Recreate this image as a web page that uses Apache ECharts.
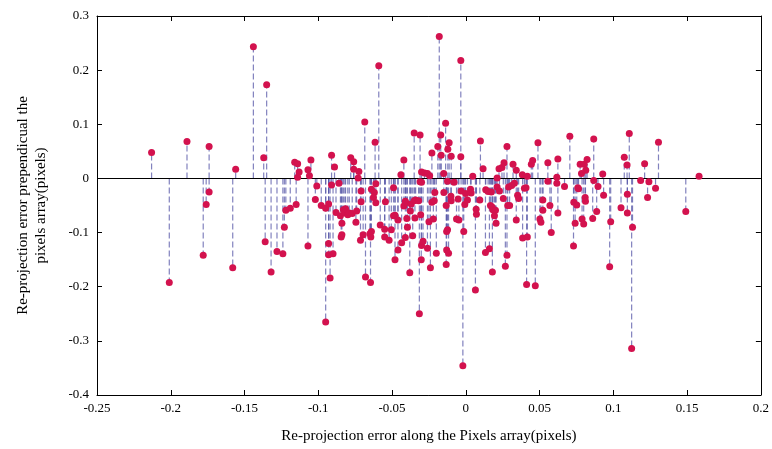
<!DOCTYPE html>
<html>
<head>
<meta charset="utf-8">
<script src="https://cdn.jsdelivr.net/npm/echarts@6/dist/echarts.min.js"></script>
<style>
html,body{margin:0;padding:0;background:#fff;}
#chart{width:772px;height:449px;}
</style>
</head>
<body>
<div id="chart"></div>
<script>
// Re-projection error along the pixels array (x) and perpendicular to it (y)
const xValues = [
 -0.213,-0.189,-0.174,-0.156,-0.144,-0.174,-0.176,-0.178,-0.158,-0.201,
 -0.135,-0.137,-0.116,-0.114,-0.113,-0.114,-0.107,-0.105,-0.106,-0.091,
 -0.089,-0.101,-0.091,-0.086,-0.136,-0.132,-0.128,-0.124,-0.123,-0.122,
 -0.119,-0.115,-0.107,-0.102,-0.098,-0.095,-0.093,-0.093,-0.093,-0.090,
 -0.092,-0.095,-0.088,-0.085,-0.083,-0.082,-0.084,-0.0845,-0.084,-0.080,
 -0.078,-0.076,-0.076,-0.0725,-0.073,-0.0685,-0.0615,-0.059,-0.061,-0.044,
 -0.042,-0.049,-0.035,-0.031,-0.030,-0.028,-0.026,-0.0245,-0.023,-0.019,
 -0.018,-0.017,-0.0167,-0.015,-0.030,-0.0815,-0.079,-0.077,-0.074,-0.0745,
 -0.071,-0.071,-0.0714,-0.0696,-0.064,-0.062,-0.0626,-0.061,-0.065,-0.0644,
 -0.064,-0.068,-0.0646,-0.058,-0.0545,-0.055,-0.055,-0.052,-0.0505,-0.049,
 -0.048,-0.046,-0.046,-0.048,-0.0435,-0.041,-0.042,-0.0407,-0.041,-0.040,
 -0.0396,-0.038,-0.0376,-0.037,-0.035,-0.034,-0.036,-0.0345,-0.032,-0.031,
 -0.0306,-0.030,-0.029,-0.0302,-0.0315,-0.026,-0.025,-0.024,-0.023,-0.0214,
 -0.022,-0.021,-0.020,-0.0137,-0.0113,-0.0122,-0.0099,-0.0124,-0.008,-0.0034,
 -0.0034,0.0047,0.0099,0.0117,0.0212,0.0225,0.0245,0.0259,0.0279,0.032,
 0.0342,0.0383,0.0417,0.0444,0.0453,0.0489,-0.0149,-0.0101,-0.0099,-0.0133,
 -0.0124,-0.013,-0.013,-0.0117,-0.0133,-0.0063,-0.0047,-0.0052,-0.0032,-0.0002,
 -0.0007,0.0011,0.0032,0.0036,-0.0014,-0.002,0.007,0.0072,0.0065,0.0095,
 0.0135,0.0133,0.016,0.0151,0.0173,0.0167,0.0178,0.0184,0.0201,0.0194,
 0.0205,0.0212,0.0228,0.018,0.0254,0.0284,0.0297,0.0279,0.0268,0.029,
 0.0311,0.0329,0.0351,0.0358,0.0342,0.0385,0.0397,0.0408,0.0417,0.0412,
 0.0471,0.0556,0.0617,0.0617,0.0624,0.0669,0.0705,0.0759,0.0775,0.0802,
 0.0822,0.0784,0.0813,0.0867,0.0867,0.0896,0.0928,0.1074,0.1093,0.1108,
 0.0522,0.0522,0.0502,0.0509,0.057,0.0579,0.0624,0.073,0.0732,0.0752,
 0.0764,0.0741,0.0809,0.0811,0.0788,0.0799,0.086,0.0887,0.0934,0.0982,
 0.0975,0.1052,0.1095,0.1095,0.113,0.1124,0.1212,0.1306,0.1185,0.1241,
 0.1581,0.1286,0.1232,0.1491,0.0556
];
const yValues = [
 0.048,0.068,0.059,0.017,0.243,-0.025,-0.048,-0.142,-0.165,-0.192,
 0.173,0.038,0.030,0.027,0.012,0.002,0.016,0.034,0.005,0.043,
 0.021,-0.014,-0.012,-0.009,-0.117,-0.173,-0.135,-0.139,-0.090,-0.059,
 -0.055,-0.048,-0.125,-0.039,-0.050,-0.055,-0.047,-0.120,-0.141,-0.139,
 -0.184,-0.265,-0.063,-0.069,-0.058,-0.064,-0.083,-0.108,-0.104,-0.067,
 0.038,0.031,0.017,0.013,0.001,0.104,0.067,0.208,-0.010,0.007,
 0.034,-0.017,0.084,0.080,0.012,0.010,0.009,0.005,0.047,0.059,
 0.262,0.080,0.043,0.009,-0.007,-0.056,-0.064,-0.065,-0.060,-0.081,
 -0.023,-0.043,-0.114,-0.104,-0.020,-0.026,-0.035,-0.045,-0.102,-0.108,
 -0.098,-0.182,-0.192,-0.086,-0.043,-0.094,-0.108,-0.114,-0.095,-0.069,
 -0.068,-0.077,-0.132,-0.150,-0.119,-0.042,-0.051,-0.045,-0.109,-0.074,
 -0.090,-0.174,-0.060,-0.047,-0.041,-0.040,-0.106,-0.073,-0.041,-0.006,
 -0.067,-0.124,-0.116,-0.150,-0.250,-0.129,-0.080,-0.165,-0.044,-0.041,
 -0.075,-0.026,-0.138,0.102,0.066,0.054,0.041,-0.005,-0.007,0.218,
 0.040,0.004,0.069,0.018,0.001,0.018,0.020,0.029,0.059,0.026,
 0.015,0.007,0.004,0.026,0.033,0.066,-0.026,-0.033,-0.041,-0.050,
 -0.095,-0.098,-0.132,-0.138,-0.159,-0.075,-0.077,-0.038,-0.023,-0.028,
 -0.048,-0.040,-0.020,-0.027,-0.098,-0.346,-0.057,-0.066,-0.206,-0.040,
 -0.021,-0.137,-0.130,-0.024,-0.025,-0.050,-0.053,-0.058,-0.059,-0.069,
 -0.083,-0.016,-0.023,-0.173,-0.037,-0.050,-0.050,-0.142,-0.162,-0.016,
 -0.013,-0.009,-0.031,-0.037,-0.077,-0.110,-0.018,-0.017,-0.108,-0.196,
 -0.198,0.029,0.002,-0.009,0.036,-0.015,0.078,-0.017,0.026,0.026,
 0.035,0.009,0.015,0.073,-0.004,-0.015,0.008,0.039,0.025,0.083,
 -0.040,-0.059,-0.075,-0.081,-0.050,-0.100,-0.064,-0.125,-0.044,-0.049,
 -0.019,-0.083,-0.035,-0.042,-0.075,-0.084,-0.074,-0.061,-0.031,-0.080,
 -0.163,-0.054,-0.029,-0.064,-0.090,-0.314,0.027,0.067,-0.004,-0.006,
 0.004,-0.018,-0.035,-0.061,-0.005
];
const xAxisRange = { min: -0.25, max: 0.2, step: 0.05 };
const yAxisRange = { min: -0.4, max: 0.3, step: 0.1 };
const xTitle = 'Re-projection error along the Pixels array(pixels)';
const yTitle = 'Re-projection error prependicual the\npixels array(pixels)';

const points = xValues.map((x, i) => [x, yValues[i]]);
const font = 'Liberation Serif';

const chart = echarts.init(document.getElementById('chart'), null, { renderer: 'canvas' });
const baseX = {
  type: 'value', min: xAxisRange.min, max: xAxisRange.max, interval: xAxisRange.step,
  axisLine: { show: true, onZero: false, lineStyle: { color: '#000', width: 1 } },
  axisTick: { show: true, inside: true, length: 5, lineStyle: { color: '#000' } },
  splitLine: { show: false }
};
const baseY = {
  type: 'value', min: yAxisRange.min, max: yAxisRange.max, interval: yAxisRange.step,
  axisLine: { show: true, onZero: false, lineStyle: { color: '#000', width: 1 } },
  axisTick: { show: true, inside: true, length: 5, lineStyle: { color: '#000' } },
  splitLine: { show: false }
};
chart.setOption({
  animation: false,
  backgroundColor: '#fff',
  grid: { left: 97, right: 9, top: 16, bottom: 52, containLabel: false },
  xAxis: [
    Object.assign({}, baseX, {
      position: 'bottom',
      name: xTitle, nameLocation: 'middle', nameGap: 34,
      nameTextStyle: { fontFamily: font, fontSize: 15, color: '#000' },
      axisLabel: { fontFamily: font, fontSize: 13, color: '#000', margin: 7 }
    }),
    Object.assign({}, baseX, { position: 'top', axisLabel: { show: false } })
  ],
  yAxis: [
    Object.assign({}, baseY, {
      position: 'left',
      name: yTitle, nameLocation: 'middle', nameGap: 47, nameRotate: 90,
      nameTextStyle: { fontFamily: font, fontSize: 15, color: '#000', lineHeight: 18 },
      axisLabel: { fontFamily: font, fontSize: 13, color: '#000', margin: 8 }
    }),
    Object.assign({}, baseY, { position: 'right', axisLabel: { show: false } })
  ],
  series: [
    {
      type: 'custom',
      name: 'stems',
      xAxisIndex: 0, yAxisIndex: 0,
      data: points,
      z: 2,
      renderItem: function (params, api) {
        const x = api.value(0), y = api.value(1);
        const p0 = api.coord([x, 0]);
        const p1 = api.coord([x, y]);
        return {
          type: 'line',
          shape: { x1: p0[0], y1: p0[1], x2: p1[0], y2: p1[1] },
          style: { stroke: '#5858a8', lineWidth: 1.2, lineDash: [6, 3], opacity: 0.75 }
        };
      },
      markLine: {
        silent: true, symbol: 'none', label: { show: false },
        lineStyle: { color: '#000', width: 1.2, type: 'solid' },
        data: [{ yAxis: 0 }]
      }
    },
    {
      type: 'scatter',
      name: 'points',
      xAxisIndex: 0, yAxisIndex: 0,
      data: points,
      symbol: 'circle',
      symbolSize: 7,
      z: 5,
      itemStyle: { color: '#d3124e', opacity: 1 }
    }
  ]
});
</script>
</body>
</html>
